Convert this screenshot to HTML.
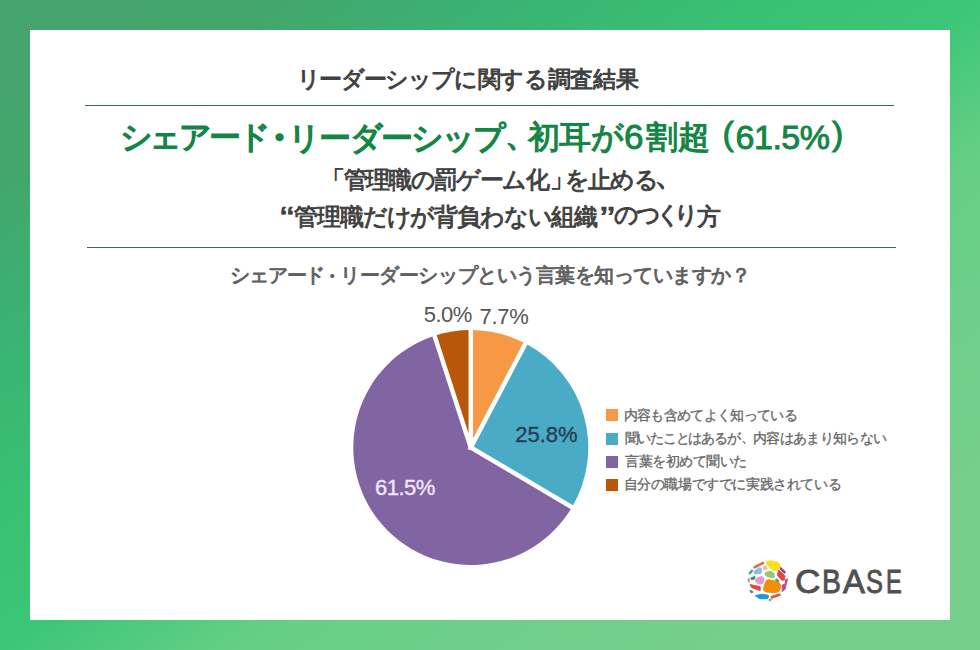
<!DOCTYPE html>
<html lang="ja"><head><meta charset="utf-8">
<style>
html,body{margin:0;padding:0;}
body{width:980px;height:650px;overflow:hidden;position:relative;font-family:"Liberation Sans",sans-serif;}
#bg{position:absolute;left:0;top:0;width:980px;height:650px;background:linear-gradient(to bottom right,#45a46c 0%,#44a56b 13%,#3ab372 26%,#38c073 38.5%,#3cc677 50%,#64cf84 61.5%,#6fcf8a 74%,#76cf8b 86.5%,#76cf8b 100%);}
#card{position:absolute;left:30px;top:30px;width:920px;height:590px;background:#fff;}
.t{position:absolute;white-space:nowrap;line-height:1;}
.s{position:absolute;white-space:nowrap;line-height:1;z-index:5;}
.rule{position:absolute;height:1px;}
.sq{position:absolute;left:606px;width:12px;height:12px;}
.lg{left:625px;font-size:14px;color:#666;}
</style></head><body>
<div id="bg"></div>
<div id="card"></div>
<div class="rule" style="left:85px;top:105px;width:809px;background:#3b6454;"></div>
<div class="rule" style="left:87px;top:247px;width:809px;background:#3b6454;"></div>
<span class="s" id="t1a" style="left:296.60px;top:68.10px;font-size:23px;font-weight:normal;color:#404040;-webkit-text-stroke:1.0px #404040;letter-spacing:-1.286px;">リーダーシップに</span>
<span class="s" id="t1b" style="left:477.80px;top:68.10px;font-size:23px;font-weight:normal;color:#404040;-webkit-text-stroke:1.0px #404040;letter-spacing:-0.333px;">関する調査結果</span>
<span class="s" id="t2a" style="left:119.60px;top:120.80px;font-size:32px;font-weight:normal;color:#138544;-webkit-text-stroke:1.5px #138544;letter-spacing:-3.250px;">シェアード</span>
<span class="s" id="t2b" style="left:258.30px;top:117.20px;font-size:42px;font-weight:normal;color:#138544;-webkit-text-stroke:1.5px #138544;">・</span>
<span class="s" id="t2c" style="left:288.30px;top:121.80px;font-size:32px;font-weight:normal;color:#138544;-webkit-text-stroke:1.5px #138544;letter-spacing:-1.833px;">リーダーシップ</span>
<span class="s" id="t2d" style="left:504.50px;top:118.50px;font-size:32px;font-weight:normal;color:#138544;-webkit-text-stroke:1.5px #138544;">、</span>
<span class="s" id="t2e" style="left:527.50px;top:121.20px;font-size:32px;font-weight:normal;color:#138544;-webkit-text-stroke:1.2px #138544;letter-spacing:-0.500px;">初耳が</span>
<span class="s" id="t2f" style="left:623.90px;top:119.10px;font-size:35px;font-weight:normal;color:#138544;-webkit-text-stroke:0.9px #138544;">6</span>
<span class="s" id="t2g" style="left:646.00px;top:121.20px;font-size:32px;font-weight:normal;color:#138544;-webkit-text-stroke:1.2px #138544;letter-spacing:-0.000px;">割超</span>
<span class="s" id="t2h" style="left:722.40px;top:116.20px;font-size:34px;font-weight:normal;color:#138544;-webkit-text-stroke:0.9px #138544;">(</span>
<span class="s" id="t2i" style="left:735.60px;top:119.60px;font-size:34px;font-weight:normal;color:#138544;-webkit-text-stroke:0.9px #138544;letter-spacing:-0.500px;">61.5%</span>
<span class="s" id="t2j" style="left:832.00px;top:116.20px;font-size:34px;font-weight:normal;color:#138544;-webkit-text-stroke:0.9px #138544;">)</span>
<span class="s" id="t3a" style="left:321.00px;top:168.00px;font-size:24px;font-weight:normal;color:#404040;-webkit-text-stroke:0.9px #404040;">「</span>
<span class="s" id="t3b" style="left:343.60px;top:168.85px;font-size:23.5px;font-weight:normal;color:#404040;-webkit-text-stroke:0.9px #404040;letter-spacing:-1.625px;">管理職の罰ゲーム化</span>
<span class="s" id="t3c" style="left:550.10px;top:167.00px;font-size:24px;font-weight:normal;color:#404040;-webkit-text-stroke:0.9px #404040;">」</span>
<span class="s" id="t3d" style="left:564.70px;top:168.85px;font-size:23.5px;font-weight:normal;color:#404040;-webkit-text-stroke:0.9px #404040;letter-spacing:-1.667px;">を止める</span>
<span class="s" id="t3e" style="left:653.60px;top:158.00px;font-size:32px;font-weight:normal;color:#404040;-webkit-text-stroke:0.9px #404040;">、</span>
<span class="s" id="t4a" style="left:280.16px;top:201.10px;font-size:34px;font-weight:normal;color:#404040;-webkit-text-stroke:0.5px #404040;transform:scaleX(1.2325);transform-origin:0 0;">“</span>
<span class="s" id="t4b" style="left:294.20px;top:205.85px;font-size:23.5px;font-weight:normal;color:#404040;-webkit-text-stroke:0.9px #404040;letter-spacing:-1.167px;">管理職だけが背負わない組織</span>
<span class="s" id="t4c" style="left:600.44px;top:201.10px;font-size:34px;font-weight:normal;color:#404040;-webkit-text-stroke:0.5px #404040;transform:scaleX(1.3070);transform-origin:0 0;">”</span>
<span class="s" id="t4d0" style="left:613.50px;top:204.25px;font-size:23.5px;font-weight:normal;color:#404040;-webkit-text-stroke:0.9px #404040;">の</span>
<span class="s" id="t4d1" style="left:636.00px;top:204.25px;font-size:23.5px;font-weight:normal;color:#404040;-webkit-text-stroke:0.9px #404040;">つ</span>
<span class="s" id="t4d2" style="left:656.00px;top:204.25px;font-size:23.5px;font-weight:normal;color:#404040;-webkit-text-stroke:0.9px #404040;">く</span>
<span class="s" id="t4d3" style="left:674.00px;top:204.25px;font-size:23.5px;font-weight:normal;color:#404040;-webkit-text-stroke:0.9px #404040;">り</span>
<span class="s" id="t4d4" style="left:697.00px;top:206.25px;font-size:23.5px;font-weight:normal;color:#404040;-webkit-text-stroke:0.9px #404040;">方</span>
<span class="s" id="t5a" style="left:230.30px;top:264.50px;font-size:20px;font-weight:normal;color:#606060;-webkit-text-stroke:0.9px #606060;letter-spacing:-1.250px;">シェアード</span>
<span class="s" id="t5b" style="left:321.80px;top:265.50px;font-size:20px;font-weight:normal;color:#606060;-webkit-text-stroke:0.9px #606060;">・</span>
<span class="s" id="t5c" style="left:340.40px;top:264.50px;font-size:20px;font-weight:normal;color:#606060;-webkit-text-stroke:0.9px #606060;letter-spacing:-0.474px;">リーダーシップという言葉を知っていますか</span>
<span class="s" id="t5d" style="left:730.50px;top:265.00px;font-size:20px;font-weight:normal;color:#606060;-webkit-text-stroke:0.9px #606060;">？</span>
<span class="s" id="l1" style="left:423.70px;top:304.00px;font-size:22px;font-weight:normal;color:#555555;letter-spacing:-0.467px;">5.0%</span>
<span class="s" id="l2" style="left:479.50px;top:306.20px;font-size:22px;font-weight:normal;color:#555555;letter-spacing:-0.267px;">7.7%</span>
<span class="s" id="l3" style="left:515.30px;top:424.00px;font-size:22px;font-weight:normal;color:#263f4e;-webkit-text-stroke:0.35px #263f4e;letter-spacing:-0.050px;">25.8%</span>
<span class="s" id="l4" style="left:375.00px;top:476.70px;font-size:22px;font-weight:normal;color:#f3e6fa;-webkit-text-stroke:0.35px #f3e6fa;letter-spacing:-0.500px;">61.5%</span>
<span class="s" id="g1" style="left:623.70px;top:407.80px;font-size:14px;font-weight:normal;color:#666666;-webkit-text-stroke:0.3px #666666;letter-spacing:-0.667px;">内容も含めてよく知っている</span>
<span class="s" id="g2a" style="left:624.70px;top:430.80px;font-size:14px;font-weight:normal;color:#666666;-webkit-text-stroke:0.3px #666666;letter-spacing:-1.250px;">聞いたことはあるが</span>
<span class="s" id="g2b" style="left:741.30px;top:429.50px;font-size:14px;font-weight:normal;color:#666666;-webkit-text-stroke:0.3px #666666;">、</span>
<span class="s" id="g2c" style="left:752.90px;top:430.80px;font-size:14px;font-weight:normal;color:#666666;-webkit-text-stroke:0.3px #666666;letter-spacing:-0.667px;">内容はあまり知らない</span>
<span class="s" id="g3" style="left:625.20px;top:454.00px;font-size:14px;font-weight:normal;color:#666666;-webkit-text-stroke:0.3px #666666;letter-spacing:-0.500px;">言葉を初めて聞いた</span>
<span class="s" id="g4" style="left:623.70px;top:476.80px;font-size:14px;font-weight:normal;color:#666666;-webkit-text-stroke:0.3px #666666;letter-spacing:-0.400px;">自分の職場ですでに実践されている</span>
<span class="s" id="cb0" style="left:794.79px;top:564.75px;font-size:33px;font-weight:normal;color:#505050;-webkit-text-stroke:0.9px #505050;transform:scaleX(1.0665);transform-origin:0 0;">C</span>
<span class="s" id="cb1" style="left:822.31px;top:564.75px;font-size:33px;font-weight:normal;color:#505050;-webkit-text-stroke:0.9px #505050;transform:scaleX(0.8598);transform-origin:0 0;">B</span>
<span class="s" id="cb2" style="left:843.18px;top:564.75px;font-size:33px;font-weight:normal;color:#505050;-webkit-text-stroke:0.9px #505050;transform:scaleX(0.9941);transform-origin:0 0;">A</span>
<span class="s" id="cb3" style="left:866.28px;top:564.75px;font-size:33px;font-weight:normal;color:#505050;-webkit-text-stroke:0.9px #505050;transform:scaleX(0.7718);transform-origin:0 0;">S</span>
<span class="s" id="cb4" style="left:886.01px;top:564.75px;font-size:33px;font-weight:normal;color:#505050;-webkit-text-stroke:0.9px #505050;transform:scaleX(0.7148);transform-origin:0 0;">E</span>
<svg style="position:absolute;left:0;top:0" width="980" height="650" viewBox="0 0 980 650">
<path d="M470.8,447.5 L470.80,330.00 A117.5,117.5 0 0 1 525.46,343.49 Z" fill="#f69844"/>
<path d="M470.8,447.5 L525.46,343.49 A117.5,117.5 0 0 1 571.94,507.31 Z" fill="#4aabc7"/>
<path d="M470.8,447.5 L571.94,507.31 A117.5,117.5 0 1 1 434.49,335.75 Z" fill="#8165a3"/>
<path d="M470.8,447.5 L434.49,335.75 A117.5,117.5 0 0 1 470.80,330.00 Z" fill="#b85708"/>
<g stroke="#fff" stroke-width="4.5" stroke-linecap="square">
<line x1="470.8" y1="447.5" x2="470.8" y2="326"/>
<line x1="470.8" y1="447.5" x2="527.3" y2="340.0"/>
<line x1="470.8" y1="447.5" x2="575.4" y2="509.3"/>
<line x1="470.8" y1="447.5" x2="433.3" y2="332.0"/>
</g>
</svg>
<div class="sq" style="top:409px;background:#f69844"></div>
<div class="sq" style="top:433px;background:#4aabc7"></div>
<div class="sq" style="top:456px;background:#8165a3"></div>
<div class="sq" style="top:479px;background:#b85708"></div>
<svg id="logo" style="position:absolute;left:745px;top:557px" width="46" height="46" viewBox="0 0 650 650"><polygon points="300,60 390,55 470,80 500,130 460,185 400,190 330,130 305,90" fill="#f5e01a" stroke="#f5e01a" stroke-width="14" stroke-linejoin="round"/><polygon points="300,330 340,320 470,350 510,410 480,490 400,505 280,490 260,460 275,400" fill="#f0900a" stroke="#f0900a" stroke-width="14" stroke-linejoin="round"/><polygon points="470,190 500,200 565,270 555,325 520,330 460,260 465,220" fill="#e5463a" stroke="#e5463a" stroke-width="14" stroke-linejoin="round"/><polygon points="290,220 360,200 410,230 415,285 380,295 300,270 285,245" fill="#9ac46e" stroke="#9ac46e" stroke-width="14" stroke-linejoin="round"/><polygon points="160,300 240,275 265,300 255,370 210,385 160,360 150,330" fill="#ec94cc" stroke="#ec94cc" stroke-width="14" stroke-linejoin="round"/><polygon points="130,200 205,150 235,165 225,230 150,240 125,225" fill="#86bde9" stroke="#86bde9" stroke-width="14" stroke-linejoin="round"/><polygon points="260,135 300,125 315,165 280,185 255,165" fill="#f0c0a0" stroke="#f0c0a0" stroke-width="14" stroke-linejoin="round"/><polygon points="120,140 255,70 270,90 135,160" fill="#d86858" stroke="#d86858" stroke-width="14" stroke-linejoin="round"/><polygon points="75,390 215,420 215,475 90,430" fill="#e04838" stroke="#e04838" stroke-width="14" stroke-linejoin="round"/><polygon points="145,545 250,525 335,545 320,590 210,590" fill="#1a98d8" stroke="#1a98d8" stroke-width="14" stroke-linejoin="round"/><polygon points="365,560 490,520 500,540 375,585" fill="#e05048" stroke="#e05048" stroke-width="14" stroke-linejoin="round"/><polygon points="530,395 585,370 565,455 525,490" fill="#c04898" stroke="#c04898" stroke-width="14" stroke-linejoin="round"/><polygon points="505,145 570,210 560,235 495,170" fill="#9a4888" stroke="#9a4888" stroke-width="14" stroke-linejoin="round"/><polygon points="440,310 480,335 470,350 430,325" fill="#3a9a88" stroke="#3a9a88" stroke-width="14" stroke-linejoin="round"/><polygon points="55,230 95,180 110,195 70,245" fill="#40a080" stroke="#40a080" stroke-width="14" stroke-linejoin="round"/><polygon points="85,295 140,275 135,310 90,320" fill="#2a8a80" stroke="#2a8a80" stroke-width="14" stroke-linejoin="round"/><polygon points="45,310 60,300 60,350 45,355" fill="#c89868" stroke="#c89868" stroke-width="14" stroke-linejoin="round"/><polygon points="75,470 110,485 100,510 70,490" fill="#3a9a80" stroke="#3a9a80" stroke-width="14" stroke-linejoin="round"/><polygon points="340,600 370,595 365,615 340,615" fill="#60a860" stroke="#60a860" stroke-width="14" stroke-linejoin="round"/><polygon points="575,320 600,310 590,360 570,365" fill="#d04060" stroke="#d04060" stroke-width="14" stroke-linejoin="round"/></svg>
</body></html>
